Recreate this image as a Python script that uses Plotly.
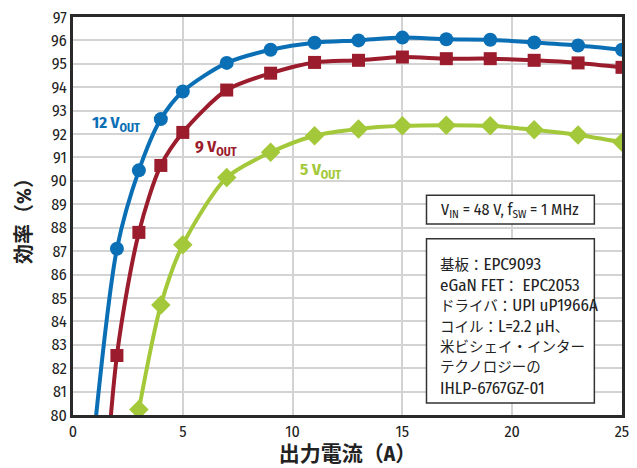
import re
import plotly.graph_objects as go

# Data
current_12v = [1, 2, 3, 4, 5, 7, 9, 11, 13, 15, 17, 19, 21, 23, 25]
eff_12v = [79.5, 87.1, 90.45, 92.64, 93.82, 95.04, 95.6, 95.9, 96.0, 96.12, 96.05, 96.03, 95.91, 95.78, 95.6]

current_9v = [1, 2, 3, 4, 5, 7, 9, 11, 13, 15, 17, 19, 21, 23, 25]
eff_9v = [70.5, 82.54, 87.8, 90.66, 92.07, 93.88, 94.6, 95.06, 95.15, 95.29, 95.22, 95.22, 95.15, 95.04, 94.85]

current_5v = [3, 4, 5, 7, 9, 11, 13, 15, 17, 19, 21, 23, 25]
eff_5v = [80.23, 84.7, 87.27, 90.14, 91.22, 91.93, 92.22, 92.35, 92.38, 92.35, 92.18, 91.96, 91.65]

x_ticks = [0, 5, 10, 15, 20, 25]
y_ticks = list(range(80, 98))

series_labels = ["12 V<sub>OUT</sub>", "9 V<sub>OUT</sub>", "5 V<sub>OUT</sub>"]
cond_text = "V<sub>IN</sub> = 48 V, f<sub>SW</sub> = 1 MHz"
box2_lines = ["基板：EPC9093", "eGaN FET： EPC2053", "ドライバ：UPI uP1966A",
              "コイル：L=2.2 μH、", "米ビシェイ・インター", "テクノロジーの", "IHLP-6767GZ-01"]

BLUE = "#0b6fb6"
RED = "#9b1c2c"
GREEN = "#a3c93a"

FONT = "Fira Sans Condensed, Noto Sans CJK JP, sans-serif"
JFONT = "Fira Sans Condensed, Noto Sans CJK JP, sans-serif"


def style_cjk(s, size=14.5):
    # render CJK runs a little smaller than the Latin text, as in the original artwork
    return re.sub(r"([\u3000-\u30ff\u4e00-\u9fff\uff00-\uffef]+)",
                  lambda m: "<span style='font-size:%spx'>%s</span>" % (size, m.group(1)), s)


fig = go.Figure()
fig.add_trace(go.Scatter(x=current_12v, y=eff_12v, mode="lines+markers",
                         line=dict(color=BLUE, width=4, shape="spline", smoothing=0.8),
                         marker=dict(symbol="circle", size=14, color=BLUE), showlegend=False))
fig.add_trace(go.Scatter(x=current_9v, y=eff_9v, mode="lines+markers",
                         line=dict(color=RED, width=4, shape="spline", smoothing=0.8),
                         marker=dict(symbol="square", size=13, color=RED), showlegend=False))
fig.add_trace(go.Scatter(x=current_5v, y=eff_5v, mode="lines+markers",
                         line=dict(color=GREEN, width=4, shape="spline", smoothing=0.8),
                         marker=dict(symbol="diamond", size=15, color=GREEN), showlegend=False))

L, R, T, B = 73, 629, 17, 419

def px2paper(px, py):
    return (px - L) / float(R - L), (B - py) / float(B - T)

annotations = []
for txt, color, (px, py) in zip(series_labels, [BLUE, RED, GREEN],
                                [(117, 125), (218, 149), (324, 172)]):
    ax, ay = px2paper(px, py)
    annotations.append(dict(x=ax, y=ay, xref="paper", yref="paper", xanchor="center",
                            yanchor="middle", text="<b>" + txt + "</b>",
                            showarrow=False, font=dict(family=FONT, size=17, color=color)))

bx, by = px2paper(516, 212)
annotations.append(dict(x=bx, y=by, xref="paper", yref="paper", xanchor="center",
                        yanchor="middle", text=cond_text,
                        showarrow=False, font=dict(family=FONT, size=16, color="#222")))

for i, line in enumerate(box2_lines):
    tx, ty = px2paper(443, 267 + 20.8 * i)
    annotations.append(dict(x=tx, y=ty, xref="paper", yref="paper", xanchor="left",
                            yanchor="middle", align="left", text=style_cjk(line),
                            showarrow=False, font=dict(family=JFONT, size=17, color="#222")))

shapes = []
for (x0, y0, x1, y1) in [(431, 197, 601, 226), (431, 241, 601, 407)]:
    px0, py1 = px2paper(x0, y0)
    px1, py0 = px2paper(x1, y1)
    shapes.append(dict(type="rect", xref="paper", yref="paper", x0=px0, x1=px1, y0=py0, y1=py1,
                       line=dict(color="#333", width=1.5), fillcolor="white", layer="above"))

fig.update_layout(
    width=637, height=468,
    margin=dict(l=L, r=637 - R, t=T, b=468 - B),
    plot_bgcolor="white", paper_bgcolor="white",
    font=dict(family=FONT, size=16, color="#222"),
    annotations=annotations,
    shapes=shapes,
    xaxis=dict(range=[0, 25], tickvals=x_ticks, showgrid=True, gridcolor="#d3d3d3", gridwidth=2,
               showline=True, linecolor="#2a2a2a", linewidth=3, mirror=True, ticks="",
               zeroline=False, tickfont=dict(size=16),
               title=dict(text="<b>出力電流（A）</b>", font=dict(family=JFONT, size=21), standoff=4)),
    yaxis=dict(range=[80, 97], tickvals=y_ticks, showgrid=True, gridcolor="#d3d3d3", gridwidth=2,
               showline=True, linecolor="#2a2a2a", linewidth=3, mirror=True, ticks="",
               zeroline=False, tickfont=dict(size=16),
               title=dict(text="<b>効率（%）</b>", font=dict(family=JFONT, size=20), standoff=14)),
)

fig.write_html("out.html", config={"displayModeBar": False},
               post_script="document.body.style.margin='0';document.body.style.padding='0';")
